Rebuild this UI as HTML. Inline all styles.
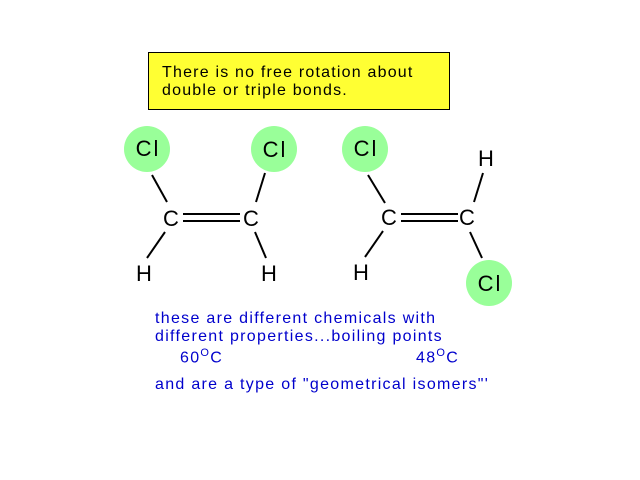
<!DOCTYPE html>
<html><head><style>
body{margin:0;background:#fff;width:640px;height:480px;overflow:hidden;position:relative;font-family:"Liberation Sans",sans-serif}
.box{position:absolute;left:148px;top:52px;width:302px;height:58px;background:#ffff33;border:1px solid #000;box-sizing:border-box;font-size:16px;line-height:18px;padding:11px 0 0 13px;color:#000;letter-spacing:1.2px;white-space:nowrap}
.b{position:absolute;color:#0000cc;font-size:16px;white-space:nowrap;letter-spacing:1.3px}
</style></head><body>
<div class="box">There is no free rotation about<br>double or triple bonds.</div>
<svg width="640" height="480" style="position:absolute;left:0;top:0" font-family="Liberation Sans, sans-serif" font-size="22">
<g fill="#99ff99">
<circle cx="147" cy="149" r="23"/><circle cx="274" cy="149" r="23"/>
<circle cx="365" cy="149" r="23"/><circle cx="489" cy="283" r="23"/>
</g>
<g stroke="#000" stroke-width="2">
<line x1="152" y1="175" x2="167" y2="202"/><line x1="165" y1="232" x2="147" y2="258"/>
<line x1="265" y1="173" x2="256" y2="202"/><line x1="255" y1="232" x2="266" y2="258"/>
<line x1="183" y1="214" x2="240" y2="214"/><line x1="183" y1="221" x2="240" y2="221"/>
<line x1="368" y1="175" x2="385" y2="203"/><line x1="383" y1="231" x2="365" y2="257"/>
<line x1="483" y1="173" x2="474" y2="202"/><line x1="470" y1="232" x2="482" y2="258"/>
<line x1="401" y1="214" x2="458" y2="214"/><line x1="401" y1="221" x2="458" y2="221"/>
</g>
<g fill="#000" text-anchor="middle" letter-spacing="2">
<text x="148" y="156">Cl</text><text x="275" y="157">Cl</text>
<text x="366" y="156">Cl</text><text x="490" y="291">Cl</text>
</g>
<g fill="#000" text-anchor="middle">
<text x="171" y="226">C</text><text x="251" y="226">C</text>
<text x="389" y="225">C</text><text x="467" y="225">C</text>
<text x="144" y="281">H</text><text x="269" y="281">H</text>
<text x="361" y="280">H</text><text x="486" y="166">H</text>
</g>
</svg>
<div class="b" style="left:155px;top:310px">these are different chemicals with</div>
<div class="b" style="left:155px;top:328px">different properties...boiling points</div>
<div class="b" style="left:180px;top:347px">60<sup style="font-size:11px">O</sup>C</div>
<div class="b" style="left:416px;top:347px">48<sup style="font-size:11px">O</sup>C</div>
<div class="b" style="left:155px;top:376px">and are a type of "geometrical isomers"'</div>
</body></html>
